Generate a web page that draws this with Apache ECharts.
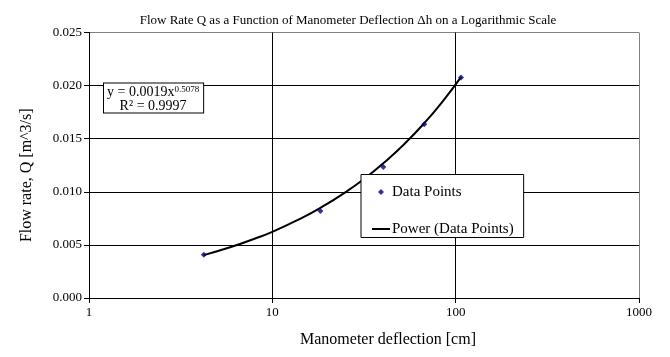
<!DOCTYPE html>
<html>
<head>
<meta charset="utf-8">
<script src="https://cdn.jsdelivr.net/npm/echarts@6/dist/echarts.min.js"></script>
<style>html,body{margin:0;padding:0;background:#fff}#c{width:670px;height:357px}</style>
</head>
<body>
<div id="c"></div>
<script>
// Measured data points (manometer deflection [cm], flow rate [m^3/s])
const deflection = [4.23, 18.3, 40.3, 67.4, 106.9];
const flowRate = [0.00408, 0.00819, 0.01234, 0.01637, 0.02077];
// Power trendline
const trendDeflection = [4.23, 6, 8, 10, 14, 18.3, 25, 33, 40.3, 52, 67.4, 85, 106.9];
const trendFlow = [0.00404, 0.00482, 0.00558, 0.00623, 0.00741, 0.00849, 0.00995, 0.01145, 0.01268, 0.01443, 0.01646, 0.01852, 0.02080];
// Trendline annotation text
const fitCoef = '0.0019';
const fitExp = '0.5078';
const fitR2 = '0.9997';
const titleText = 'Flow Rate Q as a Function of Manometer Deflection \u0394h on a Logarithmic Scale';

const FONT = '"Liberation Serif", "Times New Roman", serif';
const chart = echarts.init(document.getElementById('c'), null, {renderer: 'canvas'});
chart.setOption({
  backgroundColor: '#fff',
  animation: false,
  title: {
    text: titleText,
    left: 343, top: 9, textAlign: 'center',
    textStyle: {fontFamily: FONT, fontSize: 13, fontWeight: 'normal', color: '#000'}
  },
  grid: {left: 89, right: 31, top: 32.5, bottom: 59, containLabel: false},
  xAxis: {
    type: 'log', logBase: 10, min: 1, max: 1000,
    name: 'Manometer deflection [cm]', nameLocation: 'middle', nameGap: 34,
    nameTextStyle: {fontFamily: FONT, fontSize: 16, color: '#000', padding: [0, 0, 0, 48]},
    axisLine: {lineStyle: {color: '#000', width: 1}},
    axisTick: {show: true, inside: false, length: 5, lineStyle: {color: '#000'}},
    axisLabel: {fontFamily: FONT, fontSize: 13, color: '#000', margin: 8, formatter: v => String(Math.round(v))},
    splitLine: {show: true, lineStyle: {color: ['#000', '#000', '#000', '#808080'], width: 1}},
    minorTick: {show: false}
  },
  yAxis: {
    type: 'value', min: 0, max: 0.025, interval: 0.005,
    name: 'Flow rate, Q [m^3/s]', nameLocation: 'middle', nameGap: 54,
    nameTextStyle: {fontFamily: FONT, fontSize: 16, color: '#000', padding: [0, 20, 0, 0]},
    axisLine: {show: true, lineStyle: {color: '#000', width: 1}},
    axisTick: {show: true, inside: false, length: 5, lineStyle: {color: '#000'}},
    axisLabel: {fontFamily: FONT, fontSize: 13, color: '#000', margin: 7, formatter: v => v.toFixed(3)},
    splitLine: {show: true, lineStyle: {color: ['#000', '#000', '#000', '#000', '#000', '#808080'], width: 1}}
  },
  legend: {
    orient: 'vertical', left: 361, top: 174.5,
    padding: [10, 10, 1, 11], itemGap: 22, itemWidth: 18, itemHeight: 6,
    symbolKeepAspect: true,
    backgroundColor: '#fff', borderColor: '#000', borderWidth: 1, borderRadius: 0,
    textStyle: {fontFamily: FONT, fontSize: 15, color: '#000', padding: [0, 0, 0, -3]},
    data: [
      {name: 'Data Points', icon: 'path://M0,-3L3,0L0,3L-3,0Z', itemStyle: {color: '#000080'}},
      {name: 'Power (Data Points)', icon: 'path://M0,0H18V2H0Z', itemStyle: {color: '#000'}}
    ]
  },
  series: [
    {
      name: 'Power (Data Points)', type: 'line', smooth: true, symbol: 'none', z: 2,
      lineStyle: {color: '#000', width: 2}, itemStyle: {color: '#000'},
      data: trendDeflection.map((x, i) => [x, trendFlow[i]])
    },
    {
      name: 'Data Points', type: 'scatter', symbol: 'diamond', symbolSize: 6, z: 3,
      itemStyle: {color: '#000080'},
      data: deflection.map((x, i) => [x, flowRate[i]])
    }
  ],
  graphic: [{
    type: 'text', left: 103, top: 82.5, z: 10,
    style: {
      text: '{a|y = ' + fitCoef + 'x}{s|' + fitExp + '}\n{b|R\u00b2 = ' + fitR2 + '}',
      fill: '#000', backgroundColor: '#fff', borderColor: '#000', borderWidth: 1,
      padding: [2, 4, 0, 3], align: 'center',
      rich: {
        a: {fontFamily: FONT, fontSize: 14, lineHeight: 14, verticalAlign: 'bottom'},
        s: {fontFamily: FONT, fontSize: 9, lineHeight: 14, padding: [0, 0, 5, 0], verticalAlign: 'bottom'},
        b: {fontFamily: FONT, fontSize: 14, lineHeight: 13, align: 'center'}
      }
    }
  }]
});
</script>
</body>
</html>
